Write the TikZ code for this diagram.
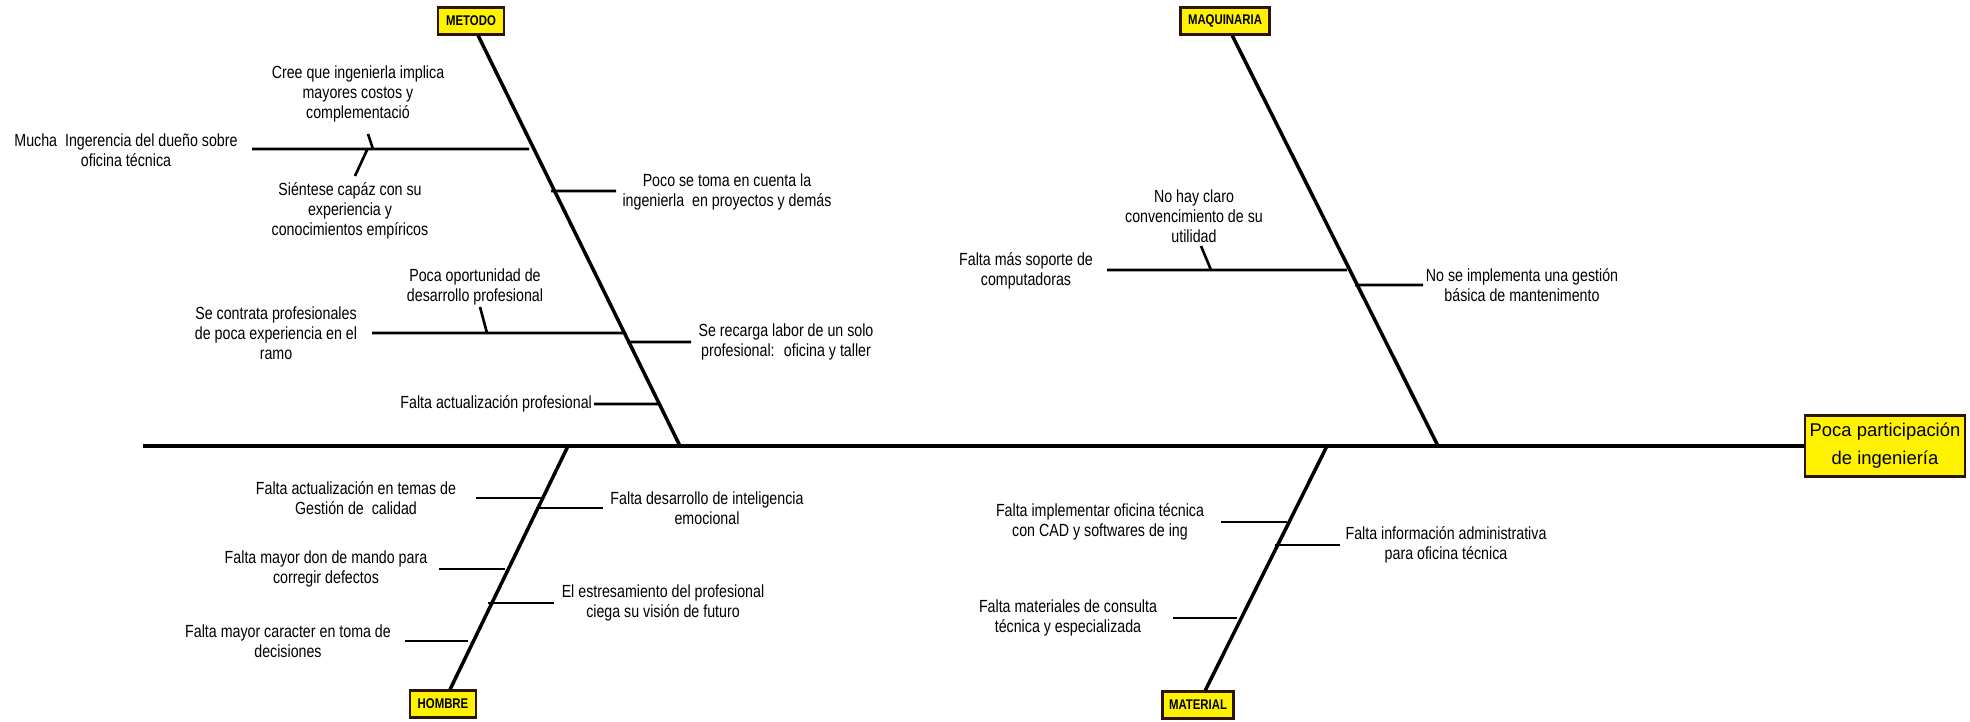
\documentclass[tikz,border=0pt]{standalone}
\usepackage{fontspec}
\setmainfont{Liberation Sans}
\newfontfamily\narrowfont{Liberation Sans}[FakeStretch=0.81]
\usepackage{tikz}
\definecolor{borde}{RGB}{45,20,10}

\begin{document}
\begin{tikzpicture}[x=0.02cm, y=-0.02cm,
  spine/.style={line width=2pt},
  bone/.style={line width=1.5pt},
  causa/.style={draw=borde, line width=1.6pt, fill=yellow, minimum width=#1,
    minimum height=15pt, inner sep=0pt, font=\narrowfont\bfseries\fontsize{8}{9}\selectfont},
  txt/.style={align=center, inner sep=1pt, font=\narrowfont\fontsize{10}{11.4}\selectfont}]
  \useasboundingbox (0,0) rectangle (1970,722);

  \node[draw=borde, line width=1.6pt, fill=yellow, minimum width=91pt, minimum height=35pt,
    align=center, inner sep=1pt, font=\fontsize{10.5}{16}\selectfont] (efecto) at (1885,446)
    {Poca participación\\de ingeniería};
  \coordinate (cola) at (143,446);
  \draw[spine] (cola) -- (efecto);

  \node[causa=37.5pt] (metodo) at (471,21) {METODO};
  \node[causa=51pt] (maquinaria) at (1225,21) {MAQUINARIA};
  \node[causa=37.5pt] (hombre) at (443,704) {HOMBRE};
  \node[causa=40.4pt] (material) at (1198,705) {MATERIAL};
  \coordinate (metodo-fin) at (680,446);
  \coordinate (maquinaria-fin) at (1438,446);
  \coordinate (hombre-fin) at (568,446);
  \coordinate (material-fin) at (1327,446);
  \draw[spine] (metodo) -- (metodo-fin);
  \draw[spine] (maquinaria) -- (maquinaria-fin);
  \draw[spine] (hombre) -- (hombre-fin);
  \draw[spine] (material) -- (material-fin);

  \coordinate (m1a) at (252,149);  \coordinate (m1b) at (529,149);
  \coordinate (m1c) at (368,134);  \coordinate (m1d) at (373,149);
  \coordinate (m1e) at (367,150);  \coordinate (m1f) at (355,176);
  \coordinate (m2a) at (551,191);  \coordinate (m2b) at (616,191);
  \coordinate (m3a) at (372,333);  \coordinate (m3b) at (623,333);
  \coordinate (m3c) at (480,307);  \coordinate (m3d) at (487,333);
  \coordinate (m4a) at (627,342);  \coordinate (m4b) at (691,342);
  \coordinate (m5a) at (594,404);  \coordinate (m5b) at (659,404);
  \draw[bone] (m1a) -- (m1b) (m1c) -- (m1d) (m1e) -- (m1f) (m2a) -- (m2b)
    (m3a) -- (m3b) (m3c) -- (m3d) (m4a) -- (m4b) (m5a) -- (m5b);
  \node[txt] (mucha) at (126,150) {Mucha~ Ingerencia del dueño sobre\\oficina técnica};
  \node[txt] (cree) at (358,94) {Cree que ingenierla implica\\mayores costos y\\complementació};
  \node[txt] (capaz) at (350,211) {Siéntese capáz con su\\experiencia y\\conocimientos empíricos};
  \node[txt] (poco) at (727,192) {Poco se toma en cuenta la\\ingenierla~ en proyectos y demás};
  \node[txt] (oportunidad) at (475,287) {Poca oportunidad de\\desarrollo profesional};
  \node[txt] (contrata) at (276,333) {Se contrata profesionales\\de poca experiencia en el\\ramo};
  \node[txt] (recarga) at (786,342) {Se recarga labor de un solo\\profesional:~ oficina y taller};
  \node[txt, anchor=east] (actualizacion) at (m5a) {Falta actualización profesional};

  \coordinate (q1a) at (1107,270); \coordinate (q1b) at (1347,270);
  \coordinate (q1c) at (1201,246); \coordinate (q1d) at (1211,270);
  \coordinate (q2a) at (1355,285); \coordinate (q2b) at (1423,285);
  \draw[bone] (q1a) -- (q1b) (q1c) -- (q1d) (q2a) -- (q2b);
  \node[txt] (soporte) at (1026,271) {Falta más soporte de\\computadoras};
  \node[txt] (claro) at (1194,216) {No hay claro\\convencimiento de su\\utilidad};
  \node[txt] (gestion) at (1522,285) {No se implementa una gestión\\básica de mantenimento};

  \coordinate (h1a) at (476,498);  \coordinate (h1b) at (541,498);
  \coordinate (h2a) at (536,508);  \coordinate (h2b) at (603,508);
  \coordinate (h3a) at (439,569);  \coordinate (h3b) at (505,569);
  \coordinate (h4a) at (488,603);  \coordinate (h4b) at (554,603);
  \coordinate (h5a) at (405,641);  \coordinate (h5b) at (468,641);
  \draw[bone] (h1a) -- (h1b) (h2a) -- (h2b) (h3a) -- (h3b) (h4a) -- (h4b) (h5a) -- (h5b);
  \node[txt] (temas) at (356,498) {Falta actualización en temas de\\Gestión de~ calidad};
  \node[txt] (emocional) at (707,508) {Falta desarrollo de inteligencia\\emocional};
  \node[txt] (mando) at (326,569) {Falta mayor don de mando para\\corregir defectos};
  \node[txt] (estres) at (663,603) {El estresamiento del profesional\\ciega su visión de futuro};
  \node[txt] (caracter) at (288,641) {Falta mayor caracter en toma de\\decisiones};

  \coordinate (t1a) at (1221,522); \coordinate (t1b) at (1287,522);
  \coordinate (t2a) at (1275,545); \coordinate (t2b) at (1340,545);
  \coordinate (t3a) at (1173,618); \coordinate (t3b) at (1237,618);
  \draw[bone] (t1a) -- (t1b) (t2a) -- (t2b) (t3a) -- (t3b);
  \node[txt] (cad) at (1100,522) {Falta implementar oficina técnica\\con CAD y softwares de ing};
  \node[txt] (admin) at (1446,545) {Falta información administrativa\\para oficina técnica};
  \node[txt] (consulta) at (1068,618) {Falta materiales de consulta\\técnica y especializada};
\end{tikzpicture}
\end{document}
